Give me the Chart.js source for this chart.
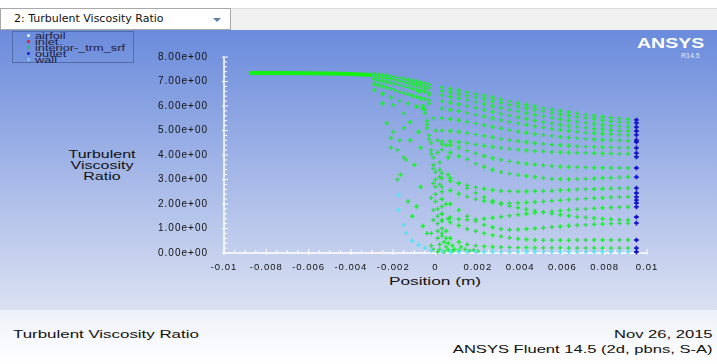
<!DOCTYPE html>
<html>
<head>
<meta charset="utf-8">
<script src="https://cdn.jsdelivr.net/npm/chart.js@4.4.0/dist/chart.umd.min.js"></script>
<style>
  body { margin: 0; width: 717px; height: 364px; overflow: hidden; background: #fff; position: relative; font-family: "Liberation Sans", Arial, sans-serif; }
  #plotbg { position: absolute; left: 0; top: 30px; width: 717px; height: 280px; background: linear-gradient(#6a8bdc, #dbe1f2); }
  #foot { position: absolute; left: 0; top: 310px; width: 717px; height: 54px; background: linear-gradient(#edf0f8, #ffffff); }
  #bar { position: absolute; left: 0; top: 8px; width: 717px; height: 21px; background: #f1f1f1; border-top: 1px solid #dadada; }
  #sel { position: absolute; left: 0; top: 8px; width: 229px; height: 20px; background: #fff; border: 1px solid #a9a9a9; font: 11px "DejaVu Sans"; line-height: 20px; color: #111; }
  #sel span { position: absolute; left: 13px; }
  #sel b { position: absolute; left: 212px; top: 9px; border-left: 4px solid transparent; border-right: 4px solid transparent; border-top: 4px solid #5f7fa8; }
  canvas { position: absolute; left: 0; top: 0; }
  .t { position: absolute; white-space: nowrap; color: #111; }
  .sl { transform-origin: left center; }
  .sr { transform-origin: right center; }
  .sc { transform-origin: center center; }
  #leg { position: absolute; left: 12px; top: 31px; width: 120px; height: 30px; border: 1px solid #566ca6; }
  #leg div { position: absolute; left: 0; height: 6px; font-size: 8.5px; line-height: 6px; color: #1c2040; }
  #leg i { position: absolute; left: 14px; top: 1px; width: 3px; height: 3px; border-radius: 50%; }
  #leg span { position: absolute; left: 22px; transform: scaleX(1.5); transform-origin: left center; white-space: nowrap; }
</style>
</head>
<body>
<div id="plotbg"></div>
<div id="foot"></div>
<div id="bar"></div>
<div id="sel"><span>2: Turbulent Viscosity Ratio</span><b></b></div>

<div id="leg">
  <div style="top:1px"><i style="background:#f4f4ff"></i><span>airfoil</span></div>
  <div style="top:7px"><i style="background:#d02030"></i><span>inlet</span></div>
  <div style="top:13px"><i style="background:#20c080"></i><span>interior-_trm_srf</span></div>
  <div style="top:19px"><i style="background:#1020d0"></i><span>outlet</span></div>
  <div style="top:25px"><i style="background:#70d8f0"></i><span>wall</span></div>
</div>

<div class="t sl" style="left:637px;top:34px;font-weight:bold;font-size:15px;color:#fff;transform:scaleX(1.3)">ANSYS</div>
<div class="t sl" style="left:681px;top:52px;font-size:7px;color:#e4eaff">R14.5</div>

<div class="t sc" style="left:52px;top:149px;width:100px;text-align:center;font-size:10px;line-height:11px;transform:scaleX(1.6)">Turbulent<br>Viscosity<br>Ratio</div>
<div class="t sc" style="left:385px;top:275px;width:100px;text-align:center;font-size:11px;transform:scaleX(1.57)">Position (m)</div>

<div class="t sl" style="left:13px;top:328px;font-size:10.7px;transform:scaleX(1.58)">Turbulent Viscosity Ratio</div>
<div class="t sr" style="right:4px;top:328px;font-size:10.7px;transform:scaleX(1.55)">Nov 26, 2015</div>
<div class="t sr" style="right:4px;top:343px;font-size:10.7px;transform:scaleX(1.55)">ANSYS Fluent 14.5 (2d, pbns, S-A)</div>

<canvas id="c" width="717" height="364"></canvas>

<script>
// axis ticks
const xTicks = [-0.01, -0.008, -0.006, -0.004, -0.002, 0, 0.002, 0.004, 0.006, 0.008, 0.01];
const yTicks = [0, 1, 2, 3, 4, 5, 6, 7, 8];

// freestream band upstream of the airfoil
const freeX = [-0.0088, -0.008, -0.007, -0.006, -0.005, -0.0045, -0.004, -0.0035, -0.003];
const freeY = [7.35, 7.35, 7.35, 7.34, 7.33, 7.32, 7.31, 7.29, 7.27];

// fan of points just ahead of x = 0
const fanX = [-0.0029, -0.0027, -0.0025, -0.0023, -0.0021, -0.0019, -0.0017, -0.0015, -0.0013, -0.0011, -0.0009, -0.0007, -0.0005, -0.0003];
const fan1 = [7.30, 7.28, 7.26, 7.24, 7.21, 7.18, 7.15, 7.12, 7.08, 7.04, 7.00, 6.96, 6.92, 6.88];
const fan2 = [7.22, 7.19, 7.16, 7.13, 7.10, 7.06, 7.02, 6.99, 6.95, 6.90, 6.86, 6.82, 6.78, 6.74];
const fan3 = [7.10, 7.06, 7.02, 6.98, 6.94, 6.90, 6.85, 6.80, 6.76, 6.72, 6.67, 6.62, 6.58, 6.54];
const fan4 = [6.90, 6.85, 6.80, 6.75, 6.70, 6.64, 6.58, 6.53, 6.48, 6.43, 6.38, 6.33, 6.28, 6.23];
const fan5X = [-0.0029, -0.0025, -0.0021, -0.0017, -0.0013, -0.0009, -0.0005];
const fan5 = [6.65, 6.50, 6.35, 6.22, 6.10, 5.98, 5.86];

// loose points left of x = 0
const sparseX = [-0.0025, -0.002, -0.0015, -0.0012, -0.002, -0.0015, -0.0021, -0.0017, -0.0012, -0.0021, -0.0018, -0.0015, -0.0007, -0.0008, -0.0014, -0.00165, -0.0018, -0.0013, -0.0011, -0.0006, -0.0004, -0.001, -0.0007, -0.0023, -0.0009];
const sparseY = [6.1, 6.05, 5.7, 5.35, 4.95, 5.1, 4.7, 4.6, 4.6, 4.3, 4.2, 3.9, 4.3, 4.95, 3.8, 3.2, 3.0, 2.1, 1.5, 1.1, 0.8, 3.6, 2.7, 5.3, 1.9];

// dense band at the trailing edge
const bandX = [-0.0009, -0.0008, -0.0007, -0.0006, -0.0005, -0.0004, -0.0004, -0.0003, -0.0002, -0.0002, -0.0001, -0.0001, 0, 0, 0, 0, 0, 0.0001, 0.0001, 0.0001, 0.0001, 0.0001, 0.0002, 0.0002, 0.0001,
  -0.0005, -0.0003, -0.0001, 0, 0.0001, 0.0001, 0.0002, 0.0002, 0.0002, 0.0002, 0.0003, 0.0003, 0.0003, 0.0003, 0.0003, 0.0003, 0.0003, 0.0004, 0.0005, 0.0006, 0.0008, 0.0004,
  -0.0002, -0.0002, -0.0001, -0.0001, -0.0002, -0.0001, -0.0001, -0.0002, -0.0003, -0.0004, -0.0006, -0.0003, -0.0001,
  0.0005, 0.0006, 0.0008, 0.0009, 0.0011, 0.0012, 0.0014, 0.0016, 0.0018, 0.002, 0.0005, 0.0006, 0.0005, 0.0006, 0.0005, 0.0006];
const bandY = [6.9, 6.6, 6.3, 6.0, 5.7, 5.4, 5.1, 4.8, 4.5, 4.2, 3.9, 3.6, 3.3, 3.0, 2.7, 2.4, 2.1, 1.8, 1.5, 1.2, 0.9, 0.6, 0.35, 0.15, 0.05,
  6.7, 6.1, 5.5, 5.0, 4.6, 4.1, 3.7, 3.4, 3.1, 2.8, 2.5, 2.2, 1.9, 1.6, 1.3, 1.0, 0.7, 0.45, 0.25, 0.12, 0.08, 0.05,
  0.3, 0.8, 1.35, 1.75, 2.25, 2.85, 3.45, 4.05, 4.65, 5.25, 5.9, 6.45, 0.15,
  0.6, 0.4, 0.3, 0.15, 0.1, 0.25, 0.15, 0.08, 0.12, 0.07, 0.9, 1.4, 2.0, 3.9, 4.4, 3.2];

// wake columns and mesh rows behind the airfoil
const wakeX = [0.0003, 0.0007, 0.0011, 0.0015, 0.0019, 0.0023, 0.0027, 0.0031, 0.0035, 0.0039, 0.0043, 0.0047, 0.0051, 0.0055, 0.0059, 0.0063, 0.0067, 0.0071, 0.0075, 0.0079, 0.0083, 0.0087, 0.0091];
const wakeRows = [
  [6.76, 6.70, 6.63, 6.56, 6.49, 6.42, 6.35, 6.27, 6.19, 6.12, 6.05, 5.98, 5.92, 5.86, 5.80, 5.75, 5.70, 5.65, 5.60, 5.56, 5.52, 5.49, 5.46],
  [6.62, 6.56, 6.49, 6.42, 6.35, 6.28, 6.21, 6.13, 6.05, 5.98, 5.91, 5.84, 5.78, 5.72, 5.66, 5.61, 5.56, 5.51, 5.46, 5.42, 5.38, 5.35, 5.32],
  [6.45, 6.38, 6.31, 6.24, 6.16, 6.08, 6.00, 5.92, 5.85, 5.78, 5.71, 5.64, 5.58, 5.52, 5.46, 5.41, 5.36, 5.31, 5.27, 5.23, 5.20, 5.17, 5.15],
  [6.20, 6.14, 6.07, 6.00, 5.92, 5.84, 5.76, 5.68, 5.61, 5.54, 5.47, 5.41, 5.35, 5.29, 5.24, 5.19, 5.15, 5.11, 5.07, 5.04, 5.01, 4.99, 4.98],
  [5.90, 5.85, 5.79, 5.72, 5.65, 5.57, 5.50, 5.43, 5.36, 5.29, 5.23, 5.17, 5.12, 5.07, 5.03, 4.99, 4.95, 4.92, 4.89, 4.87, 4.85, 4.83, 4.82],
  [5.50, 5.47, 5.42, 5.36, 5.29, 5.22, 5.15, 5.08, 5.02, 4.96, 4.91, 4.86, 4.82, 4.78, 4.74, 4.71, 4.68, 4.66, 4.64, 4.62, 4.61, 4.60, 4.58],
  [5.00, 4.98, 4.95, 4.90, 4.84, 4.78, 4.72, 4.66, 4.61, 4.56, 4.52, 4.48, 4.45, 4.42, 4.40, 4.38, 4.36, 4.34, 4.33, 4.32, 4.31, 4.30, 4.29],
  [4.55, 4.55, 4.52, 4.48, 4.43, 4.38, 4.33, 4.29, 4.25, 4.22, 4.19, 4.16, 4.14, 4.12, 4.11, 4.10, 4.09, 4.08, 4.07, 4.06, 4.06, 4.05, 4.05],
  [4.45, 4.40, 4.30, 4.18, 4.06, 3.96, 3.87, 3.80, 3.74, 3.69, 3.65, 3.61, 3.58, 3.55, 3.53, 3.51, 3.50, 3.49, 3.48, 3.48, 3.47, 3.47, 3.47],
  [4.22, 4.10, 3.95, 3.82, 3.65, 3.52, 3.40, 3.30, 3.24, 3.19, 3.14, 3.10, 3.06, 3.03, 3.02, 3.01, 3.02, 3.03, 3.04, 3.06, 3.07, 3.08, 3.10],
  [3.05, 2.95, 2.85, 2.76, 2.68, 2.62, 2.57, 2.54, 2.52, 2.51, 2.51, 2.52, 2.53, 2.54, 2.56, 2.57, 2.59, 2.60, 2.61, 2.62, 2.63, 2.64, 2.65],
  [2.70, 2.55, 2.42, 2.30, 2.20, 2.12, 2.07, 2.04, 2.03, 2.04, 2.06, 2.08, 2.10, 2.13, 2.15, 2.18, 2.20, 2.22, 2.24, 2.25, 2.27, 2.28, 2.29],
  [3.26, 3.05, 2.85, 2.65, 2.45, 2.28, 2.12, 2.00, 1.92, 1.85, 1.78, 1.72, 1.66, 1.61, 1.56, 1.52, 1.48, 1.45, 1.42, 1.40, 1.38, 1.36, 1.35],
  [1.60, 1.45, 1.38, 1.36, 1.37, 1.40, 1.44, 1.48, 1.52, 1.56, 1.60, 1.64, 1.67, 1.70, 1.73, 1.76, 1.78, 1.80, 1.82, 1.84, 1.86, 1.87, 1.88],
  [2.20, 2.00, 1.75, 1.50, 1.30, 1.15, 1.05, 0.98, 0.95, 0.96, 0.98, 1.00, 1.03, 1.06, 1.08, 1.11, 1.13, 1.15, 1.17, 1.18, 1.20, 1.21, 1.22],
  [1.35, 1.25, 1.12, 0.98, 0.90, 0.80, 0.73, 0.68, 0.62, 0.58, 0.55, 0.53, 0.52, 0.52, 0.52, 0.52, 0.53, 0.53, 0.53, 0.53, 0.53, 0.53, 0.53],
  [0.80, 0.60, 0.45, 0.35, 0.30, 0.27, 0.25, 0.24, 0.23, 0.22, 0.22, 0.21, 0.21, 0.21, 0.21, 0.20, 0.20, 0.20, 0.20, 0.20, 0.20, 0.20, 0.20]
];

// outlet boundary
const outletX = 0.0095;
const outletY = [5.43, 5.31, 5.14, 4.98, 4.82, 4.61, 4.53, 4.29, 4.08, 3.92, 3.47, 3.10, 2.65, 2.45, 2.29, 2.16, 2.04, 1.88, 1.47, 1.22, 0.53, 0.20, 0.04];

// wall
const wallX = [-0.00175, -0.00175, -0.0015, -0.0014, -0.0011, -0.0008, -0.0005, -0.0002];
const wallY = [2.37, 1.76, 1.14, 0.82, 0.50, 0.33, 0.20, 0.10];
const wallRowY = [0.06, 0.05, 0.05, 0.05, 0.05, 0.05, 0.05, 0.05, 0.05, 0.05, 0.05, 0.05, 0.05, 0.05, 0.05, 0.05, 0.05, 0.05, 0.05, 0.05, 0.05, 0.05, 0.05];

const pts = (xs, ys) => ys.map((y, i) => ({ x: Array.isArray(xs) ? xs[i] : xs, y }));

let interior = [];
[fan1, fan2, fan3, fan4].forEach(r => interior = interior.concat(pts(fanX, r)));
interior = interior.concat(pts(fan5X, fan5), pts(sparseX, sparseY), pts(bandX, bandY));
wakeRows.forEach(r => interior = interior.concat(pts(wakeX, r)));

const wall = pts(wallX, wallY).concat(pts(wakeX, wallRowY));

const axesPlugin = {
  id: 'fluentAxes',
  beforeDraw(chart) {
    chart.ctx.letterSpacing = '1px';
  },
  beforeDatasetsDraw(chart) {
    const { ctx } = chart;
    const x = chart.scales.x, y = chart.scales.y;
    const left = x.getPixelForValue(xTicks[0]), right = x.getPixelForValue(xTicks[xTicks.length - 1]);
    const bottom = y.getPixelForValue(yTicks[0]), top = y.getPixelForValue(yTicks[yTicks.length - 1]);
    ctx.save();
    ctx.strokeStyle = '#ffffff';
    ctx.lineWidth = 1.5;
    ctx.beginPath();
    ctx.moveTo(left, top); ctx.lineTo(left, bottom); ctx.lineTo(right, bottom);
    ctx.stroke();
    ctx.lineWidth = 1;
    ctx.beginPath();
    for (let i = 0; i < yTicks.length; i++) {
      const p = y.getPixelForValue(yTicks[i]);
      ctx.moveTo(left - 2, p); ctx.lineTo(left + 4, p);
      if (i < yTicks.length - 1) {
        for (let k = 1; k < 5; k++) {
          const q = y.getPixelForValue(yTicks[i] + k * 0.2);
          ctx.moveTo(left, q); ctx.lineTo(left + 3, q);
        }
      }
    }
    for (let i = 0; i < xTicks.length; i++) {
      const p = x.getPixelForValue(xTicks[i]);
      ctx.moveTo(p, bottom + 2); ctx.lineTo(p, bottom - 4);
      if (i < xTicks.length - 1) {
        for (let k = 1; k < 4; k++) {
          const q = x.getPixelForValue(xTicks[i] + k * 0.0005);
          ctx.moveTo(q, bottom); ctx.lineTo(q, bottom - 3);
        }
      }
    }
    ctx.stroke();
    ctx.restore();
  }
};

const fmtX = v => {
  const r = Math.round(v * 1000) / 1000;
  return r === 0 ? '0' : String(r);
};

new Chart(document.getElementById('c'), {
  type: 'scatter',
  data: {
    datasets: [
      { label: 'outlet', data: pts(outletX, outletY), order: 0, pointStyle: 'cross', pointRadius: 2.3, borderColor: '#1414c8', borderWidth: 1.8, clip: false },
      { label: 'wall', data: wall, order: 1, pointStyle: 'cross', pointRadius: 2.2, borderColor: '#5ce0f2', borderWidth: 1.5, clip: false },
      { label: 'interior-_trm_srf', data: interior, order: 2, pointStyle: 'cross', pointRadius: 2.2, borderColor: '#22e83a', borderWidth: 1.4, clip: false },
      { label: 'freestream', data: pts(freeX, freeY), order: 3, showLine: true, pointRadius: 0, borderColor: '#14f014', borderWidth: 4, clip: false }
    ]
  },
  options: {
    responsive: false,
    animation: false,
    devicePixelRatio: 1,
    layout: { padding: { left: 134, right: 70, top: 57, bottom: 81 } },
    plugins: { legend: { display: false }, tooltip: { enabled: false } },
    scales: {
      x: {
        type: 'linear', min: xTicks[0], max: xTicks[xTicks.length - 1],
        afterFit: s => { s.height = 30; },
        afterBuildTicks: s => { s.ticks = xTicks.map(v => ({ value: v })); },
        grid: { display: false, drawTicks: false },
        border: { display: false },
        ticks: { autoSkip: false, maxRotation: 0, padding: 9, color: '#111', font: { family: 'Liberation Sans', size: 9.5 }, callback: fmtX }
      },
      y: {
        type: 'linear', min: yTicks[0], max: yTicks[yTicks.length - 1],
        afterFit: s => { s.width = 90; },
        afterBuildTicks: s => { s.ticks = yTicks.map(v => ({ value: v })); },
        grid: { display: false, drawTicks: false },
        border: { display: false },
        ticks: { padding: 16, color: '#111', font: { family: 'Liberation Sans', size: 10 }, callback: v => v.toFixed(2) + 'e+00' }
      }
    }
  },
  plugins: [axesPlugin]
});
</script>
</body>
</html>
